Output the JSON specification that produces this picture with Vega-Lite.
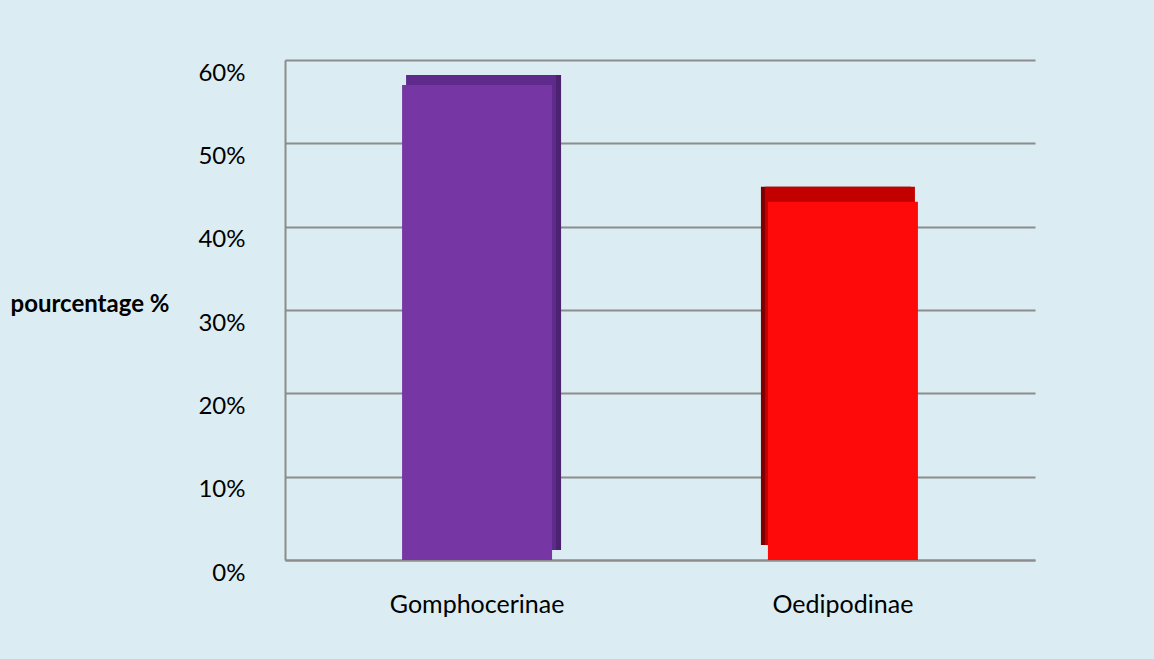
{
  "$schema": "https://vega.github.io/schema/vega-lite/v6.json",
  "width": 750,
  "height": 500,
  "autosize": {"type": "none"},
  "padding": {"left": 285, "top": 60, "right": 119, "bottom": 99},
  "background": "#DBEDF3",
  "config": {"view": {"stroke": null}, "font": "Lato"},
  "data": {
    "values": [
      {"sous_famille": "Gomphocerinae", "pourcentage": 0.57},
      {"sous_famille": "Oedipodinae", "pourcentage": 0.43}
    ]
  },
  "encoding": {
    "x": {
      "field": "sous_famille",
      "type": "nominal",
      "sort": null,
      "scale": {"paddingInner": 0.59, "paddingOuter": 0.32},
      "axis": {
        "title": null,
        "labelAngle": 0,
        "labelFont": "Lato",
        "labelFontSize": 25,
        "labelColor": "#000000",
        "labelPadding": 32,
        "ticks": false,
        "domainColor": "#8C8C8C",
        "domainWidth": 2,
        "grid": false
      }
    },
    "y": {
      "field": "pourcentage",
      "type": "quantitative",
      "scale": {"domain": [0, 0.6], "nice": false},
      "axis": {
        "values": [0, 0.1, 0.2, 0.3, 0.4, 0.5, 0.6],
        "format": ".0%",
        "title": "pourcentage %",
        "titleAngle": 0,
        "titleAlign": "left",
        "titleBaseline": "middle",
        "titleX": -275,
        "titleY": 244,
        "titleFont": "Lato",
        "titleFontSize": 24,
        "titleFontWeight": "bold",
        "titleColor": "#000000",
        "labelFont": "Lato",
        "labelFontSize": 24,
        "labelColor": "#000000",
        "labelPadding": 40,
        "labelOffset": 13,
        "ticks": false,
        "domainColor": "#8C8C8C",
        "domainWidth": 2,
        "grid": true,
        "gridColor": "#8C8C8C",
        "gridWidth": 2
      }
    }
  },
  "layer": [
    {
      "transform": [{"filter": "datum.sous_famille === 'Gomphocerinae'"}],
      "mark": {"type": "bar", "color": "#4B2170", "xOffset": 9, "yOffset": -10}
    },
    {
      "transform": [{"filter": "datum.sous_famille === 'Gomphocerinae'"}],
      "mark": {"type": "bar", "color": "#5E2B8C", "xOffset": 4, "yOffset": -10}
    },
    {
      "transform": [{"filter": "datum.sous_famille === 'Oedipodinae'"}],
      "mark": {"type": "bar", "color": "#7D0000", "xOffset": -7, "yOffset": -15}
    },
    {
      "transform": [{"filter": "datum.sous_famille === 'Oedipodinae'"}],
      "mark": {"type": "bar", "color": "#C30000", "xOffset": -3, "yOffset": -15}
    },
    {
      "mark": {"type": "bar"},
      "encoding": {
        "color": {
          "field": "sous_famille",
          "type": "nominal",
          "scale": {"domain": ["Gomphocerinae", "Oedipodinae"], "range": ["#7637A4", "#FF0A0A"]},
          "legend": null
        }
      }
    }
  ]
}
